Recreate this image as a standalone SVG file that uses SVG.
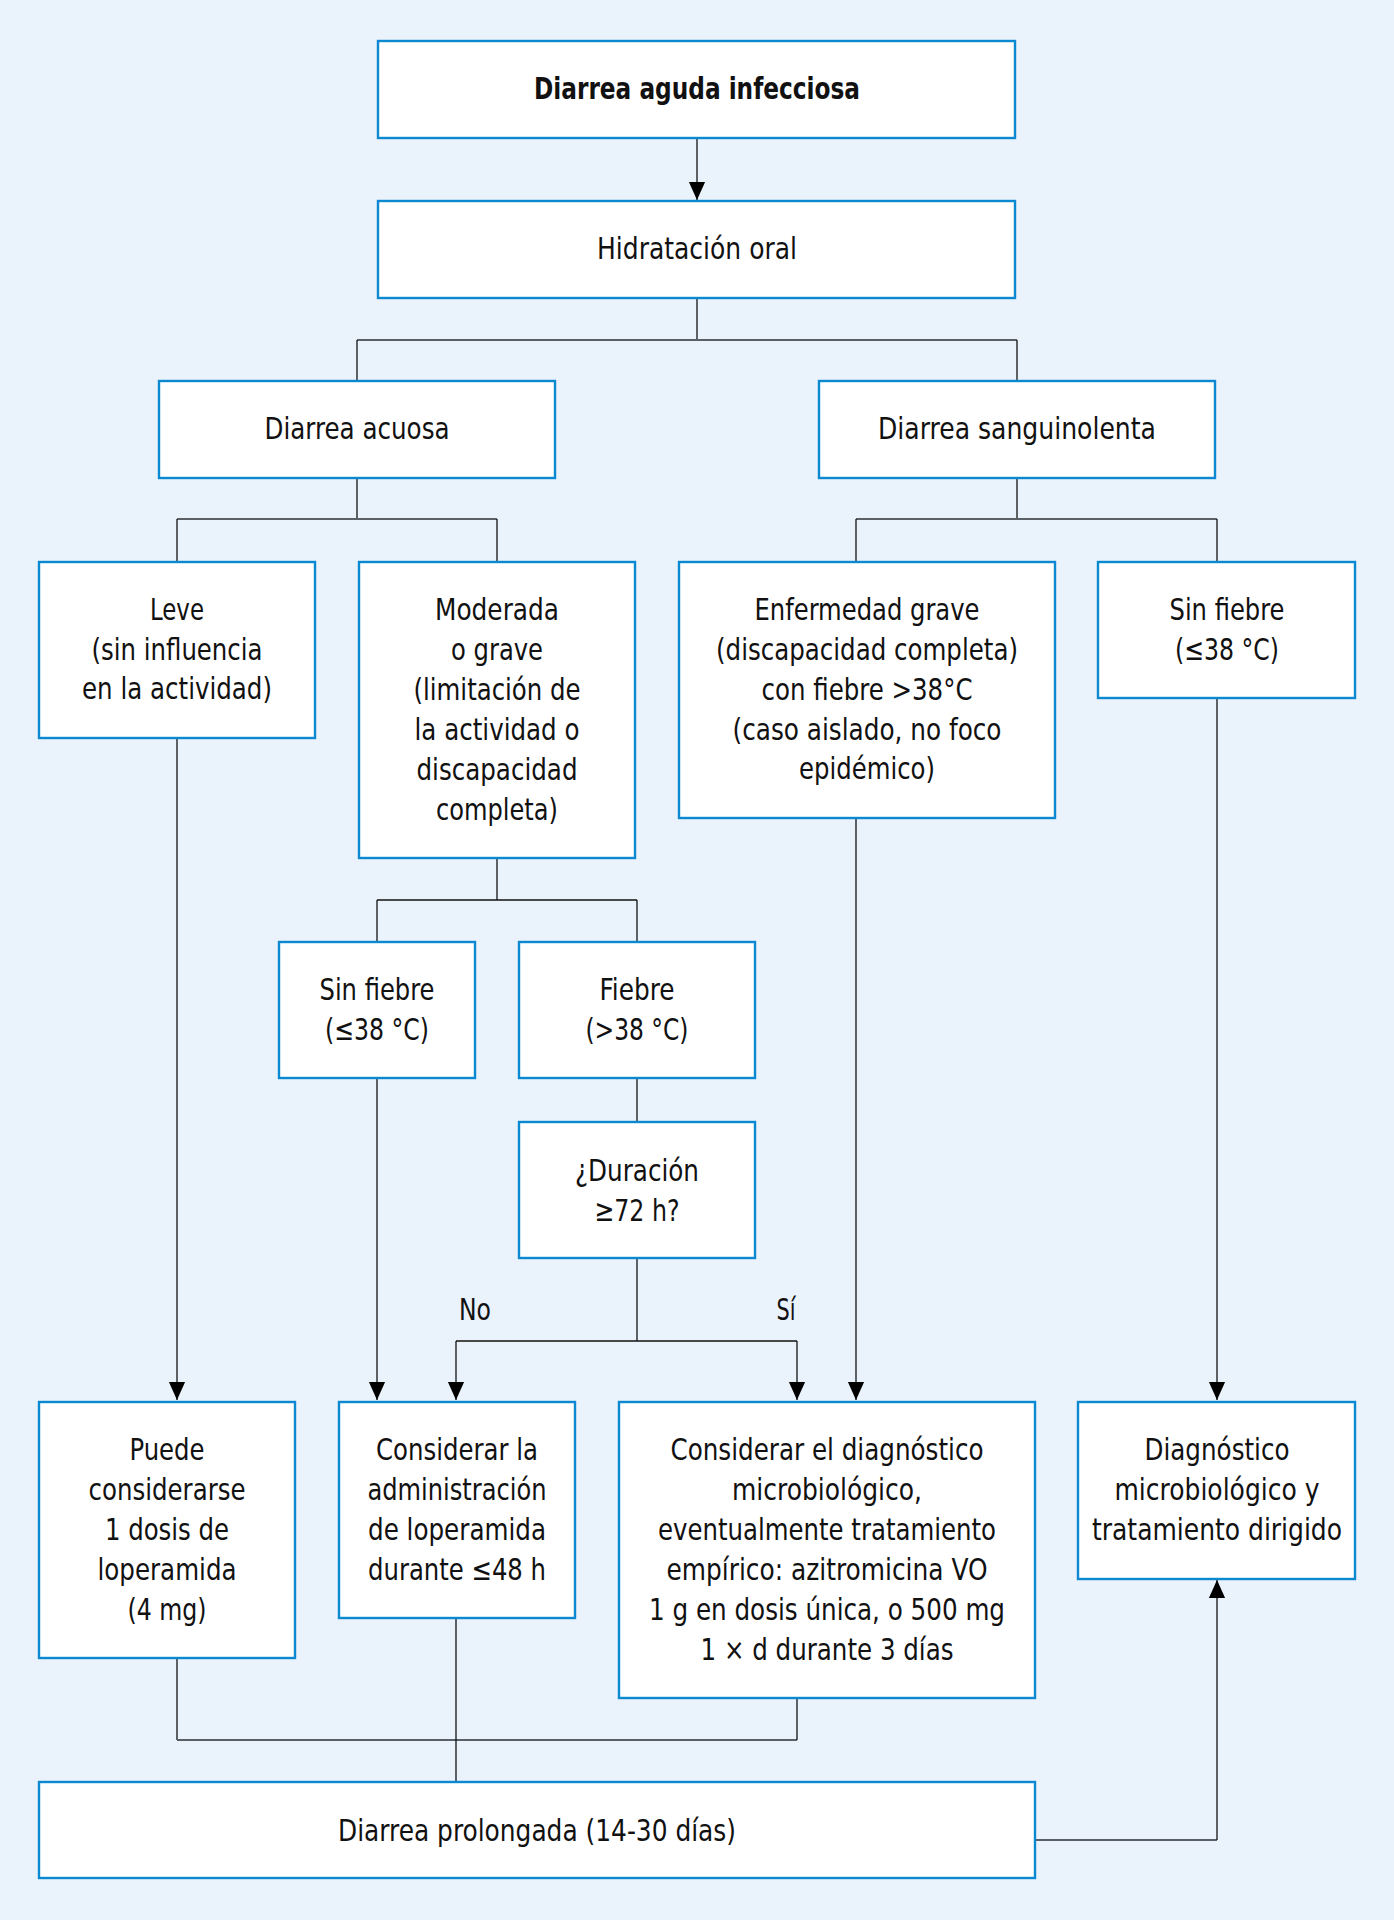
<svg xmlns="http://www.w3.org/2000/svg" width="1394" height="1920" viewBox="0 0 1394 1920">
<style>
.bg{fill:#EAF2FC}
.box{fill:#FFFFFF;stroke:#0A88D0;stroke-width:2.4}
.t{font-family:"DejaVu Sans Condensed","Liberation Sans Narrow","Liberation Sans",sans-serif;font-size:31px;fill:#111;text-anchor:middle}
.b{font-weight:bold}
.v{stroke:#111;stroke-width:1.3;fill:none}
.h{stroke:#5B6067;stroke-width:2;fill:none}
.hb{stroke:#111;stroke-width:1.6;fill:none}
</style>
<defs>
<marker id="ar" markerUnits="userSpaceOnUse" markerWidth="18" markerHeight="20" viewBox="0 0 20 18" refX="20" refY="9" orient="auto">
<path d="M0,0 L20,9 L0,18 Z" fill="#000"/>
</marker>
</defs>
<rect class="bg" x="0" y="0" width="1394" height="1920"/>

<g id="connectors">
<line class="v" x1="697" y1="139" x2="697" y2="200" marker-end="url(#ar)"/>
<line class="v" x1="697" y1="299" x2="697" y2="340"/>
<line class="h" x1="357" y1="340" x2="1017" y2="340"/>
<line class="v" x1="357" y1="340" x2="357" y2="381"/>
<line class="v" x1="1017" y1="340" x2="1017" y2="381"/>
<line class="v" x1="357" y1="479" x2="357" y2="519"/>
<line class="h" x1="177" y1="519" x2="497" y2="519"/>
<line class="v" x1="177" y1="519" x2="177" y2="562"/>
<line class="v" x1="497" y1="519" x2="497" y2="562"/>
<line class="v" x1="1017" y1="479" x2="1017" y2="519"/>
<line class="h" x1="856" y1="519" x2="1217" y2="519"/>
<line class="v" x1="856" y1="519" x2="856" y2="562"/>
<line class="v" x1="1217" y1="519" x2="1217" y2="562"/>
<line class="v" x1="177" y1="739" x2="177" y2="1400" marker-end="url(#ar)"/>
<line class="v" x1="497" y1="859" x2="497" y2="900"/>
<line class="hb" x1="377" y1="900" x2="637" y2="900"/>
<line class="v" x1="377" y1="900" x2="377" y2="942"/>
<line class="v" x1="637" y1="900" x2="637" y2="942"/>
<line class="v" x1="377" y1="1079" x2="377" y2="1400" marker-end="url(#ar)"/>
<line class="v" x1="637" y1="1079" x2="637" y2="1122"/>
<line class="v" x1="637" y1="1259" x2="637" y2="1341"/>
<line class="hb" x1="456" y1="1341" x2="797" y2="1341"/>
<line class="v" x1="456" y1="1341" x2="456" y2="1400" marker-end="url(#ar)"/>
<line class="v" x1="797" y1="1341" x2="797" y2="1400" marker-end="url(#ar)"/>
<line class="v" x1="856" y1="819" x2="856" y2="1400" marker-end="url(#ar)"/>
<line class="v" x1="1217" y1="699" x2="1217" y2="1400" marker-end="url(#ar)"/>
<line class="v" x1="177" y1="1659" x2="177" y2="1740"/>
<line class="h" x1="177" y1="1740" x2="797" y2="1740"/>
<line class="v" x1="797" y1="1740" x2="797" y2="1698"/>
<line class="v" x1="456" y1="1618" x2="456" y2="1782"/>
<line class="h" x1="1036" y1="1840" x2="1217" y2="1840"/>
<line class="v" x1="1217" y1="1840" x2="1217" y2="1580" marker-end="url(#ar)"/>
<text class="t" x="475" y="1320" textLength="32" lengthAdjust="spacingAndGlyphs">No</text>
<text class="t" x="786" y="1320" textLength="19" lengthAdjust="spacingAndGlyphs">Sí</text>
</g>

<g id="n-titulo">
<rect class="box" x="378" y="41" width="637" height="97"/>
<text class="t b" x="697" y="99" textLength="326" lengthAdjust="spacingAndGlyphs">Diarrea aguda infecciosa</text>
</g>
<g id="n-hidratacion">
<rect class="box" x="378" y="201" width="637" height="97"/>
<text class="t" x="697" y="259" textLength="200" lengthAdjust="spacingAndGlyphs">Hidratación oral</text>
</g>
<g id="n-acuosa">
<rect class="box" x="159" y="381" width="396" height="97"/>
<text class="t" x="357" y="439" textLength="185" lengthAdjust="spacingAndGlyphs">Diarrea acuosa</text>
</g>
<g id="n-sanguinolenta">
<rect class="box" x="819" y="381" width="396" height="97"/>
<text class="t" x="1017" y="439" textLength="278" lengthAdjust="spacingAndGlyphs">Diarrea sanguinolenta</text>
</g>
<g id="n-leve">
<rect class="box" x="39" y="562" width="276" height="176"/>
<text class="t" x="177" y="620" textLength="54" lengthAdjust="spacingAndGlyphs">Leve</text>
<text class="t" x="177" y="660" textLength="171" lengthAdjust="spacingAndGlyphs">(sin influencia</text>
<text class="t" x="177" y="699" textLength="190" lengthAdjust="spacingAndGlyphs">en la actividad)</text>
</g>
<g id="n-moderada">
<rect class="box" x="359" y="562" width="276" height="296"/>
<text class="t" x="497" y="620" textLength="124" lengthAdjust="spacingAndGlyphs">Moderada</text>
<text class="t" x="497" y="660" textLength="92" lengthAdjust="spacingAndGlyphs">o grave</text>
<text class="t" x="497" y="700" textLength="167" lengthAdjust="spacingAndGlyphs">(limitación de</text>
<text class="t" x="497" y="740" textLength="165" lengthAdjust="spacingAndGlyphs">la actividad o</text>
<text class="t" x="497" y="780" textLength="161" lengthAdjust="spacingAndGlyphs">discapacidad</text>
<text class="t" x="497" y="820" textLength="122" lengthAdjust="spacingAndGlyphs">completa)</text>
</g>
<g id="n-enfermedad-grave">
<rect class="box" x="679" y="562" width="376" height="256"/>
<text class="t" x="867" y="620" textLength="225" lengthAdjust="spacingAndGlyphs">Enfermedad grave</text>
<text class="t" x="867" y="660" textLength="302" lengthAdjust="spacingAndGlyphs">(discapacidad completa)</text>
<text class="t" x="867" y="700" textLength="211" lengthAdjust="spacingAndGlyphs">con fiebre &gt;38°C</text>
<text class="t" x="867" y="740" textLength="269" lengthAdjust="spacingAndGlyphs">(caso aislado, no foco</text>
<text class="t" x="867" y="779" textLength="136" lengthAdjust="spacingAndGlyphs">epidémico)</text>
</g>
<g id="n-sin-fiebre-sang">
<rect class="box" x="1098" y="562" width="257" height="136"/>
<text class="t" x="1227" y="620" textLength="115" lengthAdjust="spacingAndGlyphs">Sin fiebre</text>
<text class="t" x="1227" y="660" textLength="104" lengthAdjust="spacingAndGlyphs">(≤38 °C)</text>
</g>
<g id="n-sin-fiebre-acuosa">
<rect class="box" x="279" y="942" width="196" height="136"/>
<text class="t" x="377" y="1000" textLength="115" lengthAdjust="spacingAndGlyphs">Sin fiebre</text>
<text class="t" x="377" y="1040" textLength="104" lengthAdjust="spacingAndGlyphs">(≤38 °C)</text>
</g>
<g id="n-fiebre">
<rect class="box" x="519" y="942" width="236" height="136"/>
<text class="t" x="637" y="1000" textLength="75" lengthAdjust="spacingAndGlyphs">Fiebre</text>
<text class="t" x="637" y="1040" textLength="103" lengthAdjust="spacingAndGlyphs">(&gt;38 °C)</text>
</g>
<g id="n-duracion">
<rect class="box" x="519" y="1122" width="236" height="136"/>
<text class="t" x="637" y="1181" textLength="124" lengthAdjust="spacingAndGlyphs">¿Duración</text>
<text class="t" x="637" y="1221" textLength="85" lengthAdjust="spacingAndGlyphs">≥72 h?</text>
</g>
<g id="n-puede">
<rect class="box" x="39" y="1402" width="256" height="256"/>
<text class="t" x="167" y="1460" textLength="75" lengthAdjust="spacingAndGlyphs">Puede</text>
<text class="t" x="167" y="1500" textLength="157" lengthAdjust="spacingAndGlyphs">considerarse</text>
<text class="t" x="167" y="1540" textLength="124" lengthAdjust="spacingAndGlyphs">1 dosis de</text>
<text class="t" x="167" y="1580" textLength="139" lengthAdjust="spacingAndGlyphs">loperamida</text>
<text class="t" x="167" y="1620" textLength="79" lengthAdjust="spacingAndGlyphs">(4 mg)</text>
</g>
<g id="n-considerar-la">
<rect class="box" x="339" y="1402" width="236" height="216"/>
<text class="t" x="457" y="1460" textLength="162" lengthAdjust="spacingAndGlyphs">Considerar la</text>
<text class="t" x="457" y="1500" textLength="179" lengthAdjust="spacingAndGlyphs">administración</text>
<text class="t" x="457" y="1540" textLength="178" lengthAdjust="spacingAndGlyphs">de loperamida</text>
<text class="t" x="457" y="1580" textLength="178" lengthAdjust="spacingAndGlyphs">durante ≤48 h</text>
</g>
<g id="n-considerar-el">
<rect class="box" x="619" y="1402" width="416" height="296"/>
<text class="t" x="827" y="1460" textLength="313" lengthAdjust="spacingAndGlyphs">Considerar el diagnóstico</text>
<text class="t" x="827" y="1500" textLength="190" lengthAdjust="spacingAndGlyphs">microbiológico,</text>
<text class="t" x="827" y="1540" textLength="338" lengthAdjust="spacingAndGlyphs">eventualmente tratamiento</text>
<text class="t" x="827" y="1580" textLength="321" lengthAdjust="spacingAndGlyphs">empírico: azitromicina VO</text>
<text class="t" x="827" y="1620" textLength="356" lengthAdjust="spacingAndGlyphs">1 g en dosis única, o 500 mg</text>
<text class="t" x="827" y="1660" textLength="253" lengthAdjust="spacingAndGlyphs">1 × d durante 3 días</text>
</g>
<g id="n-diagnostico">
<rect class="box" x="1078" y="1402" width="277" height="177"/>
<text class="t" x="1217" y="1460" textLength="145" lengthAdjust="spacingAndGlyphs">Diagnóstico</text>
<text class="t" x="1217" y="1500" textLength="205" lengthAdjust="spacingAndGlyphs">microbiológico y</text>
<text class="t" x="1217" y="1540" textLength="250" lengthAdjust="spacingAndGlyphs">tratamiento dirigido</text>
</g>
<g id="n-prolongada">
<rect class="box" x="39" y="1782" width="996" height="96"/>
<text class="t" x="537" y="1841" textLength="398" lengthAdjust="spacingAndGlyphs">Diarrea prolongada (14-30 días)</text>
</g>
</svg>
